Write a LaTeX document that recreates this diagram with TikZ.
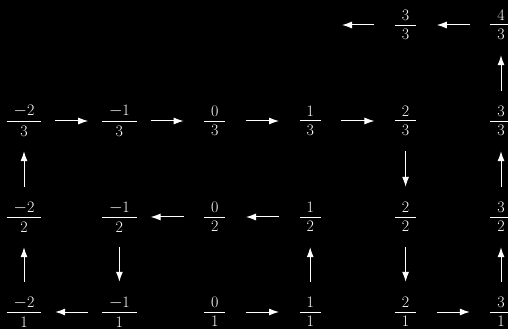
\documentclass[tikz,border=0pt]{standalone}
\usetikzlibrary{arrows.meta}
\newcommand\myfrac[2]{%
  \setbox0=\hbox{#1}\setbox2=\hbox{#2}%
  \dimen0=\wd0 \ifdim\wd2>\dimen0 \dimen0=\wd2 \fi
  \advance\dimen0 by 14pt
  \vbox{\offinterlineskip
    \hbox to\dimen0{\hss\box0\hss}%
    \kern3.8pt\hrule height0.9pt\kern3.8pt
    \hbox to\dimen0{\hss\box2\hss}}}
\begin{document}
\begin{tikzpicture}[x=1pt,y=1pt,
  fr/.style={minimum width=62pt,minimum height=60pt,inner sep=0pt,text=white,
    font=\fontsize{16}{19}\selectfont},
  arr/.style={draw=white,line width=1pt,-{Latex[length=10pt,width=7pt]}}]
\fill[black] (0,0) rectangle (508,329);
\useasboundingbox (0,0) rectangle (508,329);
% rows: y = 329 - y_img
\def\ya{17}\def\yb{112}\def\yc{208}\def\yd{304}
\def\xa{24}\def\xb{119.4}\def\xc{214.8}\def\xd{310.2}\def\xe{405.6}\def\xf{501}
% row 1
\node[fr] (a1) at (\xa,\ya) {\myfrac{$-$2}{1}};
\node[fr] (b1) at (\xb,\ya) {\myfrac{$-$1}{1}};
\node[fr] (c1) at (\xc,\ya) {\myfrac{0}{1}};
\node[fr] (d1) at (\xd,\ya) {\myfrac{1}{1}};
\node[fr] (e1) at (\xe,\ya) {\myfrac{2}{1}};
\node[fr] (f1) at (\xf,\ya) {\myfrac{3}{1}};
% row 2
\node[fr] (a2) at (\xa,\yb) {\myfrac{$-$2}{2}};
\node[fr] (b2) at (\xb,\yb) {\myfrac{$-$1}{2}};
\node[fr] (c2) at (\xc,\yb) {\myfrac{0}{2}};
\node[fr] (d2) at (\xd,\yb) {\myfrac{1}{2}};
\node[fr] (e2) at (\xe,\yb) {\myfrac{2}{2}};
\node[fr] (f2) at (\xf,\yb) {\myfrac{3}{2}};
% row 3
\node[fr] (a3) at (\xa,\yc) {\myfrac{$-$2}{3}};
\node[fr] (b3) at (\xb,\yc) {\myfrac{$-$1}{3}};
\node[fr] (c3) at (\xc,\yc) {\myfrac{0}{3}};
\node[fr] (d3) at (\xd,\yc) {\myfrac{1}{3}};
\node[fr] (e3) at (\xe,\yc) {\myfrac{2}{3}};
\node[fr] (f3) at (\xf,\yc) {\myfrac{3}{3}};
% row 4
\node[fr] (e4) at (\xe,\yd) {\myfrac{3}{3}};
\node[fr] (f4) at (\xf,\yd) {\myfrac{4}{3}};
\coordinate (free) at (342,\yd);
% arrows
\draw[arr] (a3) -- (b3);
\draw[arr] (b3) -- (c3);
\draw[arr] (c3) -- (d3);
\draw[arr] (d3) -- (e3);
\draw[arr] (e3) -- (e2);
\draw[arr] (e2) -- (e1);
\draw[arr] (e1) -- (f1);
\draw[arr] (f1) -- (f2);
\draw[arr] (f2) -- (f3);
\draw[arr] (f3) -- (f4);
\draw[arr] (f4) -- (e4);
\draw[arr] (e4) -- (free);
\draw[arr] (d2) -- (c2);
\draw[arr] (c2) -- (b2);
\draw[arr] (b2) -- (b1);
\draw[arr] (b1) -- (a1);
\draw[arr] (a1) -- (a2);
\draw[arr] (a2) -- (a3);
\draw[arr] (c1) -- (d1);
\draw[arr] (d1) -- (d2);
\end{tikzpicture}
\end{document}
